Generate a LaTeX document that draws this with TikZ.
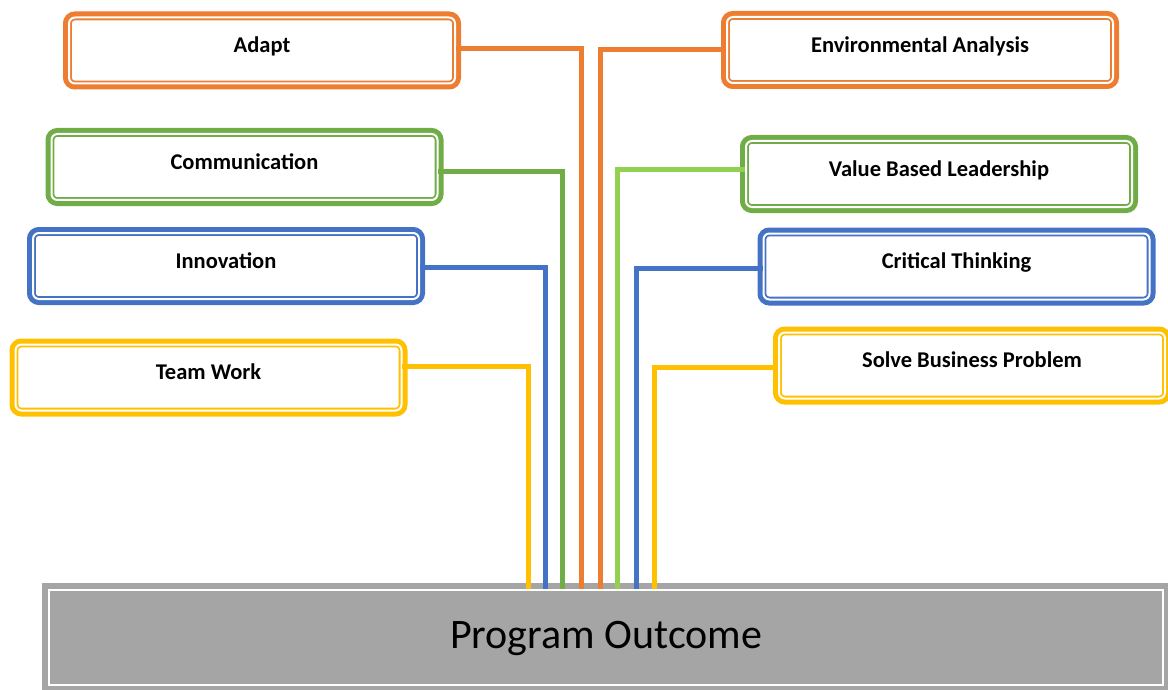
\documentclass[tikz,border=0pt]{standalone}
\usepackage{fontspec}
\setmainfont{Carlito}
\usetikzlibrary{positioning}

\definecolor{skorange}{HTML}{ED7D31}
\definecolor{skgreen}{HTML}{70AD47}
\definecolor{sklime}{HTML}{92D050}
\definecolor{skblue}{HTML}{4472C4}
\definecolor{skyellow}{HTML}{FFC000}
\definecolor{outgray}{HTML}{A5A5A5}

\begin{document}
\begin{tikzpicture}[x=1pt,y=-1pt,
    skill/.style={rounded corners=6pt,fill=white,draw=#1,double=white,
      line width=1.8pt,double distance=2pt,
      preaction={draw=#1,line width=12pt},
      minimum width=386pt,minimum height=66pt,
      font=\bfseries\fontsize{22.5}{27}\selectfont,text height=16pt,text depth=11.5pt},
    outcome/.style={fill=outgray,draw=white,line width=2pt,
      preaction={draw=outgray,line width=14pt},
      minimum width=1114pt,minimum height=95pt,
      font=\fontsize{42}{50}\selectfont,text height=29pt,text depth=8pt},
    conn/.style={draw=#1,line width=5pt}]

\useasboundingbox (0,0) rectangle (1168,690);
\clip (0,0) rectangle (1168,690);

% left column
\node[skill=skorange]  (adapt)  at (262,50.5)   {Adapt};
\node[skill=skgreen]   (comm)   at (244.5,167)  {Communication};
\node[skill=skblue]    (innov)  at (226,266)    {Innovation};
\node[skill=skyellow]  (team)   at (208.5,377.5) {Team Work};

% right column
\node[skill=skorange]  (env)    at (920,50)     {Environmental Analysis};
\node[skill=skgreen]   (value)  at (939,174)    {Value Based Leadership};
\node[skill=skblue]    (crit)   at (956.5,266.5) {Critical Thinking};
\node[skill=skyellow]  (solve)  at (972,365.5)  {Solve Business Problem};

% bottom bar
\node[outcome] (out) at (606,637.5) {Program Outcome};

% connectors into the bar
\draw[conn=skorange] ([yshift=2pt]adapt.east)  -| ([xshift=-25pt]out.north);
\draw[conn=skgreen]  ([yshift=-5pt]comm.east)  -| ([xshift=-44pt]out.north);
\draw[conn=skblue]   ([yshift=-1pt]innov.east) -| ([xshift=-61pt]out.north);
\draw[conn=skyellow] ([yshift=11pt]team.east)  -| ([xshift=-78pt]out.north);

\draw[conn=skorange] (env.west)                -| ([xshift=-6pt]out.north);
\draw[conn=sklime]   ([yshift=4pt]value.west)  -| ([xshift=11pt]out.north);
\draw[conn=skblue]   ([yshift=-1.5pt]crit.west) -| ([xshift=30pt]out.north);
\draw[conn=skyellow] ([yshift=-1.5pt]solve.west) -| ([xshift=48pt]out.north);
\end{tikzpicture}
\end{document}
